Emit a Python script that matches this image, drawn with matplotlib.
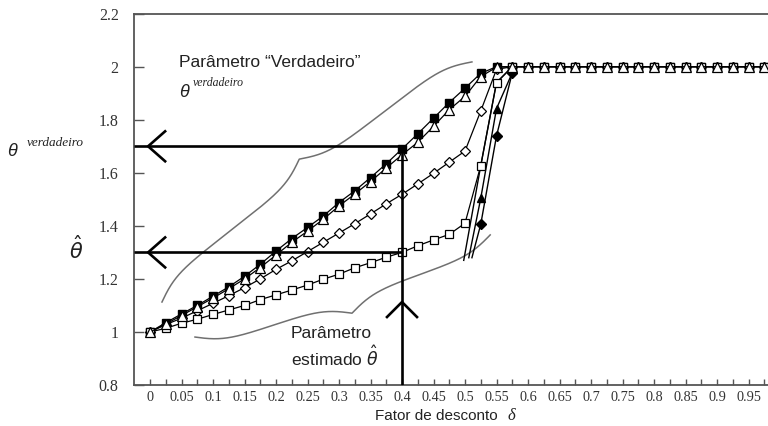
import numpy as np
import matplotlib
matplotlib.use("Agg")
import matplotlib.pyplot as plt

# ---------------- data ----------------
delta = [0.0, 0.025, 0.05, 0.075, 0.1, 0.125, 0.15, 0.175, 0.2, 0.225,
         0.25, 0.275, 0.3, 0.325, 0.35, 0.375, 0.4, 0.425, 0.45, 0.475,
         0.5, 0.525, 0.55, 0.575, 0.6, 0.625, 0.65, 0.675, 0.7, 0.725,
         0.75, 0.775, 0.8, 0.825, 0.85, 0.875, 0.9, 0.925, 0.95, 0.975]

filled_sq = [1.0, 1.035, 1.068, 1.1, 1.135, 1.17, 1.21, 1.255, 1.305, 1.352,
             1.394, 1.437, 1.488, 1.532, 1.582, 1.634, 1.69, 1.747, 1.806, 1.865,
             1.919, 1.975, 2.0, 2.0, 2.0, 2.0, 2.0, 2.0, 2.0, 2.0,
             2.0, 2.0, 2.0, 2.0, 2.0, 2.0, 2.0, 2.0, 2.0, 2.0]

open_tri = [1.0, 1.03, 1.062, 1.095, 1.128, 1.163, 1.2, 1.243, 1.29, 1.338,
            1.38, 1.425, 1.475, 1.52, 1.567, 1.618, 1.668, 1.715, 1.775, 1.838,
            1.888, 1.963, 1.998, 2.0, 2.0, 2.0, 2.0, 2.0, 2.0, 2.0,
            2.0, 2.0, 2.0, 2.0, 2.0, 2.0, 2.0, 2.0, 2.0, 2.0]

open_dia = [1.0, 1.028, 1.052, 1.08, 1.108, 1.137, 1.167, 1.2, 1.236, 1.268,
            1.303, 1.338, 1.373, 1.408, 1.445, 1.483, 1.519, 1.558, 1.598, 1.64,
            1.682, 1.833, 1.99, 2.0, 2.0, 2.0, 2.0, 2.0, 2.0, 2.0,
            2.0, 2.0, 2.0, 2.0, 2.0, 2.0, 2.0, 2.0, 2.0, 2.0]

open_sq = [1.0, 1.014, 1.033, 1.048, 1.066, 1.083, 1.1, 1.122, 1.14, 1.158,
           1.177, 1.199, 1.218, 1.242, 1.261, 1.282, 1.3, 1.325, 1.347, 1.368,
           1.41, 1.627, 1.94, 2.0, 2.0, 2.0, 2.0, 2.0, 2.0, 2.0,
           2.0, 2.0, 2.0, 2.0, 2.0, 2.0, 2.0, 2.0, 2.0, 2.0]

steep_sq_x = [0.498, 0.525, 0.55, 0.575]
steep_sq = [1.27, 1.627, 1.94, 2.0]
filled_tri_x = [0.506, 0.525, 0.55, 0.575]
filled_tri = [1.28, 1.504, 1.842, 1.977]
filled_dia_x = [0.511, 0.525, 0.55, 0.575]
filled_dia = [1.28, 1.406, 1.739, 1.977]

x_ticks = [0.0, 0.05, 0.1, 0.15, 0.2, 0.25, 0.3, 0.35, 0.4, 0.45,
           0.5, 0.55, 0.6, 0.65, 0.7, 0.75, 0.8, 0.85, 0.9, 0.95]
x_labels = ["0", "0.05", "0.1", "0.15", "0.2", "0.25", "0.3", "0.35", "0.4", "0.45",
            "0.5", "0.55", "0.6", "0.65", "0.7", "0.75", "0.8", "0.85", "0.9", "0.95"]
x_minor = [0.025, 0.075, 0.125, 0.175, 0.225, 0.275, 0.325, 0.375, 0.425, 0.475,
           0.525, 0.575, 0.625, 0.675, 0.725, 0.775, 0.825, 0.875, 0.925, 0.975]
y_ticks = [0.8, 1.0, 1.2, 1.4, 1.6, 1.8, 2.0, 2.2]
y_labels = ["0.8", "1", "1.2", "1.4", "1.6", "1.8", "2", "2.2"]

true_val = 1.7
est_val = 1.3
delta_mark = 0.4

# ---------------- layout ----------------
W, H = 768, 426
fig = plt.figure(figsize=(W / 100, H / 100), dpi=100)
X0PX, XSCALE = 150.0, 630.0
Y1PX, YSCALE = 332.0, 265.3
left_px = 134.0
xmin = (left_px - X0PX) / XSCALE
xmax = 0.99
ymin, ymax = 0.8, 2.2
right_px = X0PX + xmax * XSCALE
top_px = Y1PX - (ymax - 1) * YSCALE
bot_px = Y1PX - (ymin - 1) * YSCALE
ax = fig.add_axes([left_px / W, 1 - bot_px / H, (right_px - left_px) / W, (bot_px - top_px) / H])
ax.set_xlim(xmin, xmax)
ax.set_ylim(ymin, ymax)

SERIF = "Liberation Serif"
SANS = "Liberation Sans"
plt.rcParams["mathtext.fontset"] = "dejavusans"

spine_c = "#555555"
for s in ["left", "bottom", "top"]:
    ax.spines[s].set_color(spine_c)
    ax.spines[s].set_linewidth(1.3)
ax.spines["right"].set_visible(False)

ax.set_xticks(x_ticks)
ax.set_xticklabels(x_labels, fontfamily=SERIF, fontsize=10.3, color="#333333")
ax.set_xticks(x_minor, minor=True)
ax.set_yticks(y_ticks)
ax.set_yticklabels(y_labels, fontfamily=SERIF, fontsize=11.5, color="#333333")
ax.tick_params(axis="x", which="both", direction="in", length=4, width=1, color=spine_c, pad=4)
ax.tick_params(axis="y", direction="in", length=7, width=1, color=spine_c, pad=11)

# ---------------- series ----------------
lw = 0.9
mew = 0.9
ax.plot(steep_sq_x, steep_sq, color="black", lw=1.0, zorder=2)
ax.plot(filled_tri_x, filled_tri, color="black", lw=1.0, marker="^", ms=6,
        mfc="black", mec="black", markevery=[1, 2], zorder=3)
ax.plot(filled_dia_x, filled_dia, color="black", lw=1.0, marker="D", ms=5,
        mfc="black", mec="black", markevery=[1, 2, 3], zorder=3)
ax.plot(delta, filled_sq, color="black", lw=lw, marker="s", ms=5.5,
        mfc="black", mec="black", zorder=4)
ax.plot(delta, open_dia, color="black", lw=lw, marker="D", ms=5.5,
        mfc="white", mec="black", mew=mew, zorder=4)
ax.plot(delta, open_sq, color="black", lw=lw, marker="s", ms=6.3,
        mfc="white", mec="black", mew=mew, zorder=5)
ax.plot(delta, open_tri, color="black", lw=lw, marker="^", ms=6.5,
        mfc="white", mec="black", mew=mew, zorder=6)

# ---------------- arrows ----------------
thick = 1.9
ax.plot([xmin, delta_mark], [true_val, true_val], color="black", lw=thick, zorder=7, solid_capstyle="butt")
ax.plot([xmin, delta_mark], [est_val, est_val], color="black", lw=thick, zorder=7, solid_capstyle="butt")
ax.plot([delta_mark, delta_mark], [ymin, true_val], color="black", lw=thick, zorder=7, solid_capstyle="butt")
apx = -0.003
adx, ady = 0.027, 0.0565
for yv in (true_val, est_val):
    ax.plot([apx + adx, apx, apx + adx], [yv + ady, yv, yv - ady], color="black", lw=thick, zorder=7)
vy = 1.113
ax.plot([delta_mark - 0.0238, delta_mark, delta_mark + 0.0238], [vy - ady, vy, vy - ady],
        color="black", lw=thick, zorder=7)


# ---------------- braces ----------------
def draw_brace(p1, p2, tip, beta=0.09, color="#707070", lw=1.1):
    T = ax.transData
    a = T.transform(p1)
    b = T.transform(p2)
    c = T.transform(tip)
    d = b - a
    L = np.hypot(*d)
    u = d / L
    n = np.array([-u[1], u[0]])
    m = (a + b) / 2
    depth = np.dot(c - m, n)
    t = np.linspace(0, L / 2, 400)
    half = 1 / (1 + np.exp(-beta * (t - t[0]))) + 1 / (1 + np.exp(-beta * (t - t[-1]))) - 0.5
    along = np.concatenate([t, L - t[::-1][1:]])
    off = np.concatenate([half, half[::-1][1:]]) * depth
    pts = a[None, :] + along[:, None] * u[None, :] + off[:, None] * n[None, :]
    dpts = T.inverted().transform(pts)
    ax.plot(dpts[:, 0], dpts[:, 1], color=color, lw=lw, zorder=1, clip_on=False)


draw_brace((0.019, 1.113), (0.511, 2.018), (0.235, 1.648), beta=0.07)
draw_brace((0.0714, 0.981), (0.54, 1.366), (0.322, 1.072), beta=0.07)


# ---------------- texts ----------------
def ftext(xp, yp, s, **kw):
    fig.text(xp / W, 1 - yp / H, s, va="baseline", ha=kw.pop("ha", "left"), **kw)


ftext(179, 67, "Parâmetro “Verdadeiro”", fontfamily=SANS, fontsize=12.5, color="#222222")
ftext(179, 97, "θ", fontfamily=SANS, fontstyle="italic", fontsize=13, color="#222222")
ftext(193, 86, "verdadeiro", fontfamily=SERIF, fontstyle="italic", fontsize=8.5, color="#222222")
ftext(7, 156, "θ", fontfamily=SANS, fontstyle="italic", fontsize=13, color="#222222")
ftext(27, 146, "verdadeiro", fontfamily=SERIF, fontstyle="italic", fontsize=9.5, color="#222222")
ftext(69, 259, r"$\hat{\theta}$", fontsize=15, color="#222222")
ftext(291, 338, "Parâmetro", fontfamily=SANS, fontsize=12.5, color="#222222")
ftext(291, 366, r"estimado $\hat{\theta}$", fontfamily=SANS, fontsize=12.5, color="#222222")
ftext(375, 420, "Fator de desconto", fontfamily=SANS, fontsize=11, color="#222222")
ftext(508, 420, "δ", fontfamily=SERIF, fontstyle="italic", fontsize=12, color="#222222")

fig.savefig("out.png", dpi=100)
